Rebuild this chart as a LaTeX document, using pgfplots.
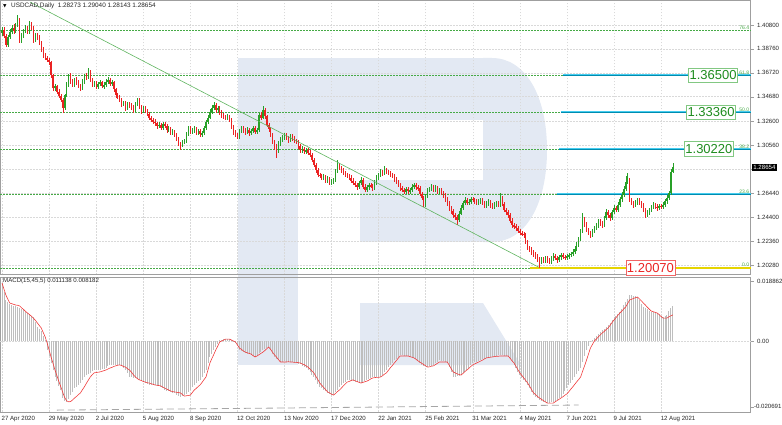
\documentclass[border=0pt]{standalone}
\usepackage{pgfplots}
\pgfplotsset{compat=1.18}
\usepackage{pgfplotstable}
\usepackage{fontspec}
\setmainfont{Liberation Sans}
\newfontfamily\symfont{DejaVu Sans}

\definecolor{bull}{RGB}{40,160,40}
\definecolor{bear}{RGB}{235,35,35}
\definecolor{fibgreen}{RGB}{70,170,70}
\definecolor{boxgreen}{RGB}{30,140,30}
\definecolor{boxedge}{RGB}{130,200,130}
\definecolor{trendgreen}{RGB}{95,180,95}
\definecolor{lvlcyan}{RGB}{70,205,240}
\definecolor{lvlcore}{RGB}{0,140,175}
\definecolor{lvlyellow}{RGB}{230,212,0}
\definecolor{histgray}{RGB}{190,190,190}
\definecolor{sigred}{RGB}{240,60,60}
\definecolor{wmark}{RGB}{227,233,243}

% daily USDCAD candles (i o h l c) and MACD(15,45,5) main / signal
\pgfplotstableread{
i o h l c m s
0 1.4010 1.4065 1.3990 1.4037 0.0182 0.0182
1 1.4037 1.4060 1.3965 1.3985 0.0155 0.0163
2 1.3985 1.4000 1.3890 1.3910 0.0129 0.0144
3 1.3910 1.3995 1.3895 1.3975 0.0122 0.0131
4 1.3975 1.4045 1.3960 1.4020 0.0116 0.0119
5 1.4020 1.4080 1.4000 1.4055 0.0114 0.0117
6 1.4055 1.4085 1.4005 1.4030 0.0111 0.0115
7 1.4030 1.4100 1.4010 1.4075 0.0109 0.0113
8 1.4075 1.4165 1.4060 1.4123 0.0107 0.0112
9 1.4123 1.4140 1.3930 1.3950 0.0104 0.0110
10 1.3950 1.4015 1.3925 1.3990 0.0100 0.0104
11 1.3990 1.4050 1.3970 1.4030 0.0096 0.0099
12 1.4030 1.4080 1.4010 1.4055 0.0092 0.0093
13 1.4055 1.4075 1.4000 1.4020 0.0088 0.0088
14 1.4020 1.4110 1.4005 1.4090 0.0084 0.0083
15 1.4090 1.4105 1.4040 1.4060 0.0080 0.0078
16 1.4060 1.4075 1.3930 1.3950 0.0075 0.0072
17 1.3950 1.4015 1.3935 1.3995 0.0060 0.0065
18 1.3995 1.4010 1.3955 1.3980 0.0044 0.0057
19 1.3980 1.3995 1.3905 1.3925 0.0038 0.0049
20 1.3925 1.3940 1.3850 1.3870 0.0031 0.0041
21 1.3870 1.3890 1.3800 1.3820 0.0017 0.0027
22 1.3820 1.3840 1.3780 1.3800 0.0003 0.0013
23 1.3800 1.3815 1.3760 1.3780 -0.0028 -0.0006
24 1.3780 1.3800 1.3735 1.3760 -0.0048 -0.0028
25 1.3760 1.3775 1.3630 1.3650 -0.0069 -0.0050
26 1.3650 1.3665 1.3520 1.3540 -0.0091 -0.0070
27 1.3540 1.3580 1.3515 1.3555 -0.0113 -0.0091
28 1.3555 1.3570 1.3490 1.3510 -0.0127 -0.0109
29 1.3510 1.3530 1.3455 1.3475 -0.0141 -0.0127
30 1.3475 1.3490 1.3420 1.3440 -0.0154 -0.0144
31 1.3440 1.3455 1.3330 1.3370 -0.0179 -0.0162
32 1.3370 1.3495 1.3355 1.3480 -0.0188 -0.0178
33 1.3480 1.3590 1.3465 1.3570 -0.0192 -0.0188
34 1.3570 1.3665 1.3550 1.3645 -0.0182 -0.0191
35 1.3645 1.3670 1.3580 1.3600 -0.0170 -0.0190
36 1.3600 1.3620 1.3550 1.3570 -0.0159 -0.0185
37 1.3570 1.3630 1.3550 1.3610 -0.0148 -0.0179
38 1.3610 1.3635 1.3570 1.3590 -0.0143 -0.0174
39 1.3590 1.3610 1.3540 1.3560 -0.0137 -0.0168
40 1.3560 1.3580 1.3515 1.3540 -0.0132 -0.0163
41 1.3540 1.3620 1.3525 1.3600 -0.0122 -0.0153
42 1.3600 1.3665 1.3580 1.3645 -0.0113 -0.0144
43 1.3645 1.3670 1.3610 1.3630 -0.0108 -0.0133
44 1.3630 1.3710 1.3615 1.3680 -0.0104 -0.0123
45 1.3680 1.3695 1.3595 1.3610 -0.0100 -0.0113
46 1.3610 1.3630 1.3550 1.3570 -0.0095 -0.0106
47 1.3570 1.3605 1.3550 1.3585 -0.0091 -0.0100
48 1.3585 1.3600 1.3530 1.3550 -0.0091 -0.0099
49 1.3550 1.3595 1.3535 1.3575 -0.0091 -0.0098
50 1.3575 1.3610 1.3555 1.3590 -0.0091 -0.0097
51 1.3590 1.3605 1.3540 1.3555 -0.0089 -0.0095
52 1.3555 1.3590 1.3535 1.3570 -0.0087 -0.0093
53 1.3570 1.3615 1.3550 1.3595 -0.0085 -0.0091
54 1.3595 1.3635 1.3575 1.3610 -0.0080 -0.0088
55 1.3610 1.3625 1.3560 1.3580 -0.0075 -0.0085
56 1.3580 1.3610 1.3560 1.3590 -0.0075 -0.0083
57 1.3590 1.3605 1.3510 1.3530 -0.0075 -0.0080
58 1.3530 1.3545 1.3460 1.3480 -0.0075 -0.0078
59 1.3480 1.3500 1.3445 1.3465 -0.0075 -0.0076
60 1.3465 1.3485 1.3420 1.3440 -0.0075 -0.0075
61 1.3440 1.3460 1.3380 1.3400 -0.0080 -0.0077
62 1.3400 1.3435 1.3385 1.3415 -0.0086 -0.0080
63 1.3415 1.3430 1.3345 1.3370 -0.0091 -0.0082
64 1.3370 1.3425 1.3355 1.3405 -0.0102 -0.0087
65 1.3405 1.3420 1.3370 1.3390 -0.0113 -0.0091
66 1.3390 1.3410 1.3355 1.3375 -0.0114 -0.0098
67 1.3375 1.3395 1.3330 1.3350 -0.0115 -0.0106
68 1.3350 1.3420 1.3335 1.3400 -0.0116 -0.0113
69 1.3400 1.3460 1.3385 1.3440 -0.0119 -0.0118
70 1.3440 1.3455 1.3360 1.3380 -0.0122 -0.0122
71 1.3380 1.3395 1.3320 1.3340 -0.0125 -0.0124
72 1.3340 1.3390 1.3325 1.3370 -0.0129 -0.0127
73 1.3370 1.3385 1.3330 1.3350 -0.0132 -0.0129
74 1.3350 1.3365 1.3300 1.3320 -0.0135 -0.0131
75 1.3320 1.3335 1.3270 1.3290 -0.0138 -0.0132
76 1.3290 1.3305 1.3250 1.3270 -0.0138 -0.0134
77 1.3270 1.3290 1.3235 1.3255 -0.0138 -0.0136
78 1.3255 1.3275 1.3220 1.3240 -0.0138 -0.0138
79 1.3240 1.3255 1.3195 1.3215 -0.0140 -0.0139
80 1.3215 1.3250 1.3200 1.3230 -0.0142 -0.0140
81 1.3230 1.3245 1.3180 1.3200 -0.0144 -0.0141
82 1.3200 1.3255 1.3185 1.3235 -0.0149 -0.0145
83 1.3235 1.3255 1.3200 1.3220 -0.0154 -0.0148
84 1.3220 1.3235 1.3160 1.3180 -0.0156 -0.0151
85 1.3180 1.3215 1.3165 1.3195 -0.0158 -0.0154
86 1.3195 1.3210 1.3140 1.3160 -0.0160 -0.0157
87 1.3160 1.3190 1.3140 1.3170 -0.0162 -0.0159
88 1.3170 1.3185 1.3120 1.3140 -0.0163 -0.0160
89 1.3140 1.3155 1.3090 1.3110 -0.0168 -0.0161
90 1.3110 1.3125 1.3050 1.3070 -0.0172 -0.0162
91 1.3070 1.3085 1.3010 1.3050 -0.0176 -0.0163
92 1.3050 1.3095 1.3035 1.3075 -0.0173 -0.0168
93 1.3075 1.3110 1.3060 1.3090 -0.0170 -0.0173
94 1.3090 1.3170 1.3075 1.3150 -0.0165 -0.0172
95 1.3150 1.3220 1.3135 1.3200 -0.0159 -0.0171
96 1.3200 1.3215 1.3145 1.3165 -0.0154 -0.0170
97 1.3165 1.3200 1.3150 1.3180 -0.0146 -0.0162
98 1.3180 1.3215 1.3160 1.3195 -0.0138 -0.0154
99 1.3195 1.3210 1.3140 1.3160 -0.0133 -0.0149
100 1.3160 1.3195 1.3140 1.3175 -0.0127 -0.0143
101 1.3175 1.3190 1.3125 1.3145 -0.0122 -0.0138
102 1.3145 1.3175 1.3125 1.3155 -0.0112 -0.0130
103 1.3155 1.3220 1.3140 1.3200 -0.0101 -0.0121
104 1.3200 1.3270 1.3185 1.3250 -0.0091 -0.0113
105 1.3250 1.3310 1.3235 1.3290 -0.0070 -0.0091
106 1.3290 1.3360 1.3275 1.3337 -0.0050 -0.0069
107 1.3337 1.3395 1.3320 1.3370 -0.0040 -0.0055
108 1.3370 1.3420 1.3350 1.3397 -0.0029 -0.0042
109 1.3397 1.3415 1.3330 1.3350 -0.0019 -0.0028
110 1.3350 1.3390 1.3330 1.3370 -0.0008 -0.0016
111 1.3370 1.3385 1.3310 1.3330 0.0003 -0.0003
112 1.3330 1.3350 1.3290 1.3310 0.0004 0.0000
113 1.3310 1.3330 1.3275 1.3295 0.0005 0.0003
114 1.3295 1.3315 1.3265 1.3285 0.0006 0.0006
115 1.3285 1.3320 1.3265 1.3300 0.0006 0.0006
116 1.3300 1.3315 1.3250 1.3270 0.0006 0.0006
117 1.3270 1.3285 1.3190 1.3210 0.0002 0.0003
118 1.3210 1.3225 1.3140 1.3160 -0.0002 0.0000
119 1.3160 1.3180 1.3120 1.3140 -0.0006 -0.0003
120 1.3140 1.3160 1.3105 1.3125 -0.0017 -0.0012
121 1.3125 1.3190 1.3110 1.3170 -0.0028 -0.0022
122 1.3170 1.3215 1.3155 1.3195 -0.0031 -0.0026
123 1.3195 1.3215 1.3160 1.3180 -0.0035 -0.0031
124 1.3180 1.3200 1.3140 1.3160 -0.0038 -0.0035
125 1.3160 1.3205 1.3145 1.3185 -0.0040 -0.0037
126 1.3185 1.3200 1.3135 1.3155 -0.0042 -0.0039
127 1.3155 1.3195 1.3140 1.3175 -0.0044 -0.0041
128 1.3175 1.3220 1.3160 1.3200 -0.0047 -0.0046
129 1.3200 1.3215 1.3145 1.3165 -0.0050 -0.0050
130 1.3165 1.3200 1.3150 1.3180 -0.0044 -0.0047
131 1.3180 1.3330 1.3165 1.3310 -0.0039 -0.0043
132 1.3310 1.3335 1.3270 1.3290 -0.0033 -0.0039
133 1.3290 1.3390 1.3275 1.3355 -0.0028 -0.0035
134 1.3355 1.3370 1.3280 1.3300 -0.0025 -0.0030
135 1.3300 1.3315 1.3205 1.3225 -0.0022 -0.0024
136 1.3225 1.3240 1.3170 1.3190 -0.0019 -0.0019
137 1.3190 1.3205 1.3120 1.3140 -0.0029 -0.0027
138 1.3140 1.3155 1.3065 1.3085 -0.0040 -0.0036
139 1.3085 1.3100 1.3015 1.3040 -0.0050 -0.0044
140 1.3040 1.3060 1.2945 1.3010 -0.0055 -0.0051
141 1.3010 1.3090 1.2990 1.3070 -0.0061 -0.0059
142 1.3070 1.3120 1.3050 1.3098 -0.0066 -0.0066
143 1.3098 1.3140 1.3080 1.3120 -0.0065 -0.0066
144 1.3120 1.3160 1.3100 1.3140 -0.0064 -0.0066
145 1.3140 1.3160 1.3095 1.3115 -0.0065 -0.0066
146 1.3115 1.3135 1.3075 1.3098 -0.0066 -0.0065
147 1.3098 1.3145 1.3080 1.3125 -0.0066 -0.0066
148 1.3125 1.3145 1.3090 1.3110 -0.0066 -0.0066
149 1.3110 1.3130 1.3070 1.3090 -0.0068 -0.0067
150 1.3090 1.3110 1.3060 1.3080 -0.0069 -0.0067
151 1.3080 1.3100 1.3025 1.3045 -0.0071 -0.0068
152 1.3045 1.3060 1.2990 1.3010 -0.0072 -0.0069
153 1.3010 1.3045 1.2990 1.3025 -0.0077 -0.0072
154 1.3025 1.3040 1.2980 1.3000 -0.0082 -0.0074
155 1.3000 1.3030 1.2980 1.3010 -0.0086 -0.0078
156 1.3010 1.3030 1.2970 1.2990 -0.0091 -0.0082
157 1.2990 1.3010 1.2950 1.2970 -0.0098 -0.0088
158 1.2970 1.2985 1.2910 1.2930 -0.0106 -0.0094
159 1.2930 1.2945 1.2865 1.2885 -0.0113 -0.0100
160 1.2885 1.2900 1.2820 1.2840 -0.0123 -0.0111
161 1.2840 1.2855 1.2780 1.2800 -0.0134 -0.0121
162 1.2800 1.2820 1.2770 1.2790 -0.0144 -0.0132
163 1.2790 1.2810 1.2755 1.2775 -0.0149 -0.0139
164 1.2775 1.2805 1.2755 1.2785 -0.0154 -0.0146
165 1.2785 1.2800 1.2735 1.2756 -0.0158 -0.0153
166 1.2756 1.2790 1.2735 1.2770 -0.0163 -0.0160
167 1.2770 1.2785 1.2710 1.2730 -0.0165 -0.0163
168 1.2730 1.2765 1.2710 1.2745 -0.0168 -0.0167
169 1.2745 1.2775 1.2725 1.2756 -0.0170 -0.0170
170 1.2756 1.2850 1.2740 1.2830 -0.0161 -0.0165
171 1.2830 1.2925 1.2815 1.2884 -0.0153 -0.0159
172 1.2884 1.2900 1.2840 1.2860 -0.0144 -0.0154
173 1.2860 1.2880 1.2820 1.2842 -0.0139 -0.0148
174 1.2842 1.2860 1.2795 1.2815 -0.0133 -0.0141
175 1.2815 1.2835 1.2780 1.2800 -0.0128 -0.0135
176 1.2800 1.2820 1.2770 1.2790 -0.0122 -0.0129
177 1.2790 1.2810 1.2755 1.2775 -0.0123 -0.0127
178 1.2775 1.2795 1.2730 1.2750 -0.0125 -0.0124
179 1.2750 1.2770 1.2710 1.2730 -0.0126 -0.0122
180 1.2730 1.2750 1.2695 1.2715 -0.0128 -0.0125
181 1.2715 1.2735 1.2675 1.2696 -0.0129 -0.0127
182 1.2696 1.2750 1.2680 1.2730 -0.0131 -0.0130
183 1.2730 1.2780 1.2710 1.2756 -0.0132 -0.0132
184 1.2756 1.2775 1.2680 1.2700 -0.0129 -0.0130
185 1.2700 1.2720 1.2650 1.2670 -0.0125 -0.0128
186 1.2670 1.2715 1.2650 1.2695 -0.0122 -0.0126
187 1.2695 1.2735 1.2675 1.2713 -0.0119 -0.0123
188 1.2713 1.2735 1.2685 1.2705 -0.0116 -0.0119
189 1.2705 1.2725 1.2665 1.2688 -0.0113 -0.0116
190 1.2688 1.2755 1.2670 1.2735 -0.0113 -0.0115
191 1.2735 1.2795 1.2715 1.2773 -0.0113 -0.0114
192 1.2773 1.2820 1.2755 1.2800 -0.0113 -0.0114
193 1.2800 1.2850 1.2780 1.2825 -0.0113 -0.0113
194 1.2825 1.2845 1.2790 1.2810 -0.0106 -0.0109
195 1.2810 1.2880 1.2795 1.2842 -0.0098 -0.0104
196 1.2842 1.2860 1.2805 1.2825 -0.0091 -0.0100
197 1.2825 1.2845 1.2795 1.2816 -0.0083 -0.0092
198 1.2816 1.2835 1.2780 1.2800 -0.0076 -0.0084
199 1.2800 1.2820 1.2770 1.2790 -0.0068 -0.0077
200 1.2790 1.2810 1.2740 1.2760 -0.0060 -0.0069
201 1.2760 1.2780 1.2720 1.2740 -0.0055 -0.0062
202 1.2740 1.2760 1.2695 1.2715 -0.0049 -0.0054
203 1.2715 1.2735 1.2665 1.2688 -0.0044 -0.0047
204 1.2688 1.2705 1.2650 1.2670 -0.0045 -0.0047
205 1.2670 1.2690 1.2635 1.2654 -0.0046 -0.0047
206 1.2654 1.2700 1.2635 1.2680 -0.0046 -0.0047
207 1.2680 1.2700 1.2640 1.2660 -0.0047 -0.0047
208 1.2660 1.2690 1.2640 1.2670 -0.0049 -0.0049
209 1.2670 1.2720 1.2650 1.2700 -0.0051 -0.0051
210 1.2700 1.2735 1.2680 1.2713 -0.0053 -0.0053
211 1.2713 1.2735 1.2675 1.2695 -0.0058 -0.0057
212 1.2695 1.2715 1.2665 1.2688 -0.0064 -0.0062
213 1.2688 1.2705 1.2620 1.2640 -0.0069 -0.0066
214 1.2640 1.2655 1.2585 1.2603 -0.0074 -0.0070
215 1.2603 1.2620 1.2525 1.2543 -0.0078 -0.0074
216 1.2543 1.2640 1.2530 1.2620 -0.0080 -0.0078
217 1.2620 1.2690 1.2600 1.2670 -0.0082 -0.0082
218 1.2670 1.2700 1.2650 1.2680 -0.0080 -0.0081
219 1.2680 1.2720 1.2660 1.2696 -0.0077 -0.0079
220 1.2696 1.2715 1.2650 1.2670 -0.0075 -0.0078
221 1.2670 1.2710 1.2650 1.2688 -0.0070 -0.0074
222 1.2688 1.2705 1.2640 1.2660 -0.0065 -0.0070
223 1.2660 1.2690 1.2640 1.2670 -0.0060 -0.0066
224 1.2670 1.2690 1.2625 1.2645 -0.0062 -0.0066
225 1.2645 1.2665 1.2605 1.2628 -0.0063 -0.0066
226 1.2628 1.2645 1.2570 1.2590 -0.0065 -0.0066
227 1.2590 1.2610 1.2535 1.2555 -0.0066 -0.0066
228 1.2555 1.2575 1.2495 1.2517 -0.0082 -0.0076
229 1.2517 1.2535 1.2470 1.2490 -0.0097 -0.0087
230 1.2490 1.2510 1.2435 1.2457 -0.0113 -0.0097
231 1.2457 1.2475 1.2415 1.2440 -0.0112 -0.0100
232 1.2440 1.2460 1.2372 1.2415 -0.0110 -0.0103
233 1.2415 1.2490 1.2400 1.2470 -0.0109 -0.0105
234 1.2470 1.2540 1.2455 1.2517 -0.0107 -0.0107
235 1.2517 1.2580 1.2500 1.2560 -0.0102 -0.0102
236 1.2560 1.2610 1.2540 1.2586 -0.0096 -0.0096
237 1.2586 1.2605 1.2540 1.2560 -0.0091 -0.0091
238 1.2560 1.2590 1.2540 1.2569 -0.0084 -0.0086
239 1.2569 1.2615 1.2550 1.2595 -0.0076 -0.0080
240 1.2595 1.2615 1.2565 1.2586 -0.0069 -0.0075
241 1.2586 1.2605 1.2550 1.2570 -0.0067 -0.0072
242 1.2570 1.2590 1.2540 1.2560 -0.0065 -0.0069
243 1.2560 1.2595 1.2540 1.2575 -0.0062 -0.0066
244 1.2575 1.2605 1.2555 1.2586 -0.0060 -0.0063
245 1.2586 1.2605 1.2540 1.2560 -0.0058 -0.0060
246 1.2560 1.2580 1.2520 1.2543 -0.0055 -0.0056
247 1.2543 1.2575 1.2520 1.2555 -0.0053 -0.0053
248 1.2555 1.2590 1.2535 1.2569 -0.0052 -0.0052
249 1.2569 1.2585 1.2520 1.2540 -0.0051 -0.0051
250 1.2540 1.2560 1.2505 1.2526 -0.0050 -0.0050
251 1.2526 1.2565 1.2505 1.2545 -0.0048 -0.0049
252 1.2545 1.2580 1.2525 1.2560 -0.0047 -0.0048
253 1.2560 1.2580 1.2525 1.2545 -0.0045 -0.0048
254 1.2545 1.2645 1.2530 1.2603 -0.0044 -0.0047
255 1.2603 1.2620 1.2535 1.2555 -0.0045 -0.0047
256 1.2555 1.2570 1.2480 1.2500 -0.0047 -0.0047
257 1.2500 1.2520 1.2460 1.2480 -0.0048 -0.0047
258 1.2480 1.2500 1.2435 1.2457 -0.0050 -0.0047
259 1.2457 1.2475 1.2390 1.2410 -0.0058 -0.0054
260 1.2410 1.2430 1.2350 1.2372 -0.0067 -0.0062
261 1.2372 1.2390 1.2340 1.2360 -0.0075 -0.0069
262 1.2360 1.2380 1.2325 1.2346 -0.0086 -0.0079
263 1.2346 1.2365 1.2300 1.2320 -0.0096 -0.0090
264 1.2320 1.2340 1.2285 1.2304 -0.0107 -0.0100
265 1.2304 1.2325 1.2275 1.2295 -0.0115 -0.0108
266 1.2295 1.2315 1.2265 1.2287 -0.0123 -0.0116
267 1.2287 1.2305 1.2210 1.2230 -0.0130 -0.0124
268 1.2230 1.2245 1.2155 1.2176 -0.0138 -0.0132
269 1.2176 1.2195 1.2140 1.2160 -0.0149 -0.0142
270 1.2160 1.2180 1.2120 1.2142 -0.0159 -0.0153
271 1.2142 1.2160 1.2100 1.2120 -0.0170 -0.0163
272 1.2120 1.2140 1.2085 1.2107 -0.0175 -0.0168
273 1.2107 1.2125 1.2055 1.2075 -0.0180 -0.0174
274 1.2075 1.2095 1.2005 1.2056 -0.0185 -0.0179
275 1.2056 1.2100 1.2040 1.2080 -0.0188 -0.0183
276 1.2080 1.2100 1.2045 1.2065 -0.0190 -0.0187
277 1.2065 1.2110 1.2045 1.2090 -0.0193 -0.0191
278 1.2090 1.2110 1.2050 1.2070 -0.0195 -0.0195
279 1.2070 1.2090 1.2035 1.2056 -0.0194 -0.0195
280 1.2056 1.2105 1.2035 1.2085 -0.0193 -0.0195
281 1.2085 1.2130 1.2065 1.2107 -0.0192 -0.0195
282 1.2107 1.2125 1.2070 1.2090 -0.0188 -0.0191
283 1.2090 1.2110 1.2050 1.2073 -0.0184 -0.0187
284 1.2073 1.2115 1.2055 1.2095 -0.0180 -0.0183
285 1.2095 1.2135 1.2075 1.2116 -0.0176 -0.0179
286 1.2116 1.2135 1.2080 1.2100 -0.0167 -0.0175
287 1.2100 1.2120 1.2070 1.2090 -0.0157 -0.0170
288 1.2090 1.2125 1.2070 1.2105 -0.0148 -0.0166
289 1.2105 1.2135 1.2085 1.2116 -0.0139 -0.0159
290 1.2116 1.2145 1.2095 1.2125 -0.0131 -0.0151
291 1.2125 1.2165 1.2105 1.2142 -0.0122 -0.0144
292 1.2142 1.2190 1.2125 1.2170 -0.0113 -0.0136
293 1.2170 1.2225 1.2150 1.2201 -0.0103 -0.0128
294 1.2201 1.2270 1.2185 1.2250 -0.0094 -0.0121
295 1.2250 1.2335 1.2235 1.2312 -0.0085 -0.0113
296 1.2312 1.2474 1.2300 1.2420 -0.0066 -0.0095
297 1.2420 1.2440 1.2355 1.2375 -0.0047 -0.0078
298 1.2375 1.2395 1.2310 1.2330 -0.0028 -0.0060
299 1.2330 1.2350 1.2285 1.2305 -0.0016 -0.0041
300 1.2305 1.2325 1.2265 1.2287 -0.0003 -0.0022
301 1.2287 1.2340 1.2270 1.2320 0.0003 -0.0011
302 1.2320 1.2365 1.2300 1.2346 0.0009 0.0000
303 1.2346 1.2390 1.2330 1.2370 0.0015 0.0006
304 1.2370 1.2420 1.2350 1.2398 0.0022 0.0013
305 1.2398 1.2420 1.2365 1.2385 0.0028 0.0019
306 1.2385 1.2405 1.2350 1.2372 0.0034 0.0025
307 1.2372 1.2450 1.2355 1.2430 0.0039 0.0030
308 1.2430 1.2505 1.2415 1.2483 0.0045 0.0036
309 1.2483 1.2500 1.2435 1.2455 0.0050 0.0041
310 1.2455 1.2475 1.2410 1.2432 0.0058 0.0049
311 1.2432 1.2500 1.2415 1.2480 0.0067 0.0058
312 1.2480 1.2540 1.2465 1.2517 0.0075 0.0066
313 1.2517 1.2535 1.2480 1.2500 0.0080 0.0073
314 1.2500 1.2565 1.2485 1.2543 0.0086 0.0081
315 1.2543 1.2610 1.2525 1.2590 0.0091 0.0088
316 1.2590 1.2650 1.2570 1.2628 0.0101 0.0094
317 1.2628 1.2705 1.2610 1.2680 0.0112 0.0101
318 1.2680 1.2790 1.2665 1.2740 0.0122 0.0107
319 1.2740 1.2816 1.2720 1.2756 0.0133 0.0118
320 1.2756 1.2775 1.2570 1.2586 0.0144 0.0129
321 1.2586 1.2605 1.2540 1.2560 0.0143 0.0131
322 1.2560 1.2580 1.2520 1.2543 0.0141 0.0134
323 1.2543 1.2585 1.2525 1.2565 0.0140 0.0136
324 1.2565 1.2605 1.2545 1.2586 0.0138 0.0138
325 1.2586 1.2605 1.2540 1.2560 0.0128 0.0132
326 1.2560 1.2580 1.2520 1.2543 0.0117 0.0126
327 1.2543 1.2560 1.2480 1.2500 0.0107 0.0119
328 1.2500 1.2520 1.2435 1.2457 0.0103 0.0113
329 1.2457 1.2500 1.2440 1.2480 0.0099 0.0106
330 1.2480 1.2520 1.2460 1.2500 0.0095 0.0100
331 1.2500 1.2545 1.2480 1.2525 0.0091 0.0094
332 1.2525 1.2565 1.2505 1.2543 0.0090 0.0092
333 1.2543 1.2560 1.2510 1.2530 0.0089 0.0090
334 1.2530 1.2550 1.2495 1.2517 0.0088 0.0088
335 1.2517 1.2555 1.2500 1.2535 0.0084 0.0083
336 1.2535 1.2555 1.2505 1.2526 0.0079 0.0077
337 1.2526 1.2565 1.2505 1.2545 0.0075 0.0072
338 1.2545 1.2595 1.2525 1.2575 0.0078 0.0072
339 1.2575 1.2625 1.2555 1.2603 0.0082 0.0072
340 1.2603 1.2665 1.2585 1.2645 0.0093 0.0076
341 1.2645 1.2850 1.2630 1.2827 0.0104 0.0079
342 1.2827 1.2904 1.2814 1.2865 0.0111 0.0082
}\ohlc

\tikzset{
  pricebox/.style={draw=#1, fill=white, font=\fontsize{13}{14}\selectfont,
    inner xsep=1pt, inner ysep=2.6pt, line width=0.6pt},
}

\begin{document}
\begin{tikzpicture}[x=1pt,y=1pt]

% watermark logo behind everything
\fill[wmark] (237.7,366) rectangle (298.3,59);
\fill[wmark] (298,366) rectangle (492,304);
\fill[wmark] (483,366) -- (492,366) .. controls (525,366) and (547,329) .. (547,274)
  .. controls (547,219) and (525,182) .. (492,182) -- (483,182) -- cycle;
\fill[wmark] (360,244) rectangle (492,182);
\fill[wmark] (360,121) -- (483,121) -- (521,59) -- (360,59) -- cycle;

\pgfplotsset{
  chart/.style={
    scale only axis, width=750.5pt,
    xmin=-1.02, xmax=381.6,
    axis line style={gray!75}, tick style={gray!75},
    xtick={0,24,...,336}, xmajorgrids,
    grid style={gray!30, dash pattern=on 1.5pt off 1.5pt, line width=0.4pt},
    ytick pos=right, yticklabel pos=right, tick align=outside,
    major tick length=3pt, xtick style={draw=none},
    scaled ticks=false, clip=false,
    ticklabel style={font=\fontsize{6.1}{7}\selectfont, text=black!85},
  },
  candle/.style={draw=none, mark=none, forget plot,
    error bars/.cd, y dir=both, y explicit, error mark=none,
    error bar style={draw=#1}},
}

% price panel
\begin{axis}[chart, at={(0pt,149.5pt)}, anchor=south west, height=274.5pt,
  ymin=1.19494, ymax=1.42935, ymajorgrids,
  xticklabels={},
  ytick={1.2028,1.2236,1.2440,1.2644,1.2852,1.3056,1.3260,1.3468,1.3672,1.3876,1.4080},
  yticklabels={1.20280,1.22360,1.24400,1.26440,,1.30560,1.32600,1.34680,1.36720,1.38760,1.40800},
]
% fibonacci levels
\addplot[fibgreen, line width=0.5pt, dash pattern=on 1.5pt off 1.5pt] coordinates {(-1.02,1.4037) (381.6,1.4037)};
\addplot[fibgreen, line width=0.5pt, dash pattern=on 1.5pt off 1.5pt] coordinates {(-1.02,1.3650) (381.6,1.3650)};
\addplot[fibgreen, line width=0.5pt, dash pattern=on 1.5pt off 1.5pt] coordinates {(-1.02,1.3336) (381.6,1.3336)};
\addplot[fibgreen, line width=0.5pt, dash pattern=on 1.5pt off 1.5pt] coordinates {(-1.02,1.3022) (381.6,1.3022)};
\addplot[fibgreen, line width=0.5pt, dash pattern=on 1.5pt off 1.5pt] coordinates {(-1.02,1.2636) (381.6,1.2636)};
\addplot[fibgreen, line width=0.5pt, dash pattern=on 1.5pt off 1.5pt] coordinates {(-1.02,1.2007) (381.6,1.2007)};
% target levels: light cyan band with a darker core
\addplot[lvlcyan, line width=1.8pt] coordinates {(286.2,1.3650) (381.6,1.3650)};
\addplot[lvlcyan, line width=1.8pt] coordinates {(285.2,1.3336) (381.6,1.3336)};
\addplot[lvlcyan, line width=1.8pt] coordinates {(284.2,1.3022) (381.6,1.3022)};
\addplot[lvlcyan, line width=1.8pt] coordinates {(283.2,1.2636) (381.6,1.2636)};
\addplot[lvlcore, line width=0.5pt] coordinates {(286.2,1.3650) (381.6,1.3650)};
\addplot[lvlcore, line width=0.5pt] coordinates {(285.2,1.3336) (381.6,1.3336)};
\addplot[lvlcore, line width=0.5pt] coordinates {(284.2,1.3022) (381.6,1.3022)};
\addplot[lvlcore, line width=0.5pt] coordinates {(283.2,1.2636) (381.6,1.2636)};
\addplot[lvlyellow, line width=1.6pt] coordinates {(269.4,1.2007) (381.6,1.2007)};

% wicks
\addplot[candle={bull, line width=0.5pt}]
  table[x=i, y expr={\thisrow{c}>=\thisrow{o} ? 0.5*(\thisrow{h}+\thisrow{l}) : nan},
        y error expr={0.5*(\thisrow{h}-\thisrow{l})}] {\ohlc};
\addplot[candle={bear, line width=0.5pt}]
  table[x=i, y expr={\thisrow{c}<\thisrow{o} ? 0.5*(\thisrow{h}+\thisrow{l}) : nan},
        y error expr={0.5*(\thisrow{h}-\thisrow{l})}] {\ohlc};
% bodies
\addplot[candle={bull, line width=1.3pt}]
  table[x=i, y expr={\thisrow{c}>=\thisrow{o} ? 0.5*(\thisrow{o}+\thisrow{c}) : nan},
        y error expr={0.5*abs(\thisrow{c}-\thisrow{o})}] {\ohlc};
\addplot[candle={bear, line width=1.3pt}]
  table[x=i, y expr={\thisrow{c}<\thisrow{o} ? 0.5*(\thisrow{o}+\thisrow{c}) : nan},
        y error expr={0.5*abs(\thisrow{c}-\thisrow{o})}] {\ohlc};

% trend line
\addplot[trendgreen, line width=0.6pt] coordinates {(14.3,1.4276) (273.5,1.2013)};

% level labels
\foreach \lv/\txt in {1.4037/76.4, 1.3650/61.8, 1.3336/50.0, 1.3022/38.2, 1.2636/23.6, 1.2007/0.0}{
  \edef\tmp{\noexpand\node[anchor=south east, text=fibgreen, font=\noexpand\fontsize{5}{5}\noexpand\selectfont, inner sep=0.6pt] at (axis cs:381.3,\lv) {\txt};}\tmp
}
\node[pricebox=boxedge, text=boxgreen] at (axis cs:362.5,1.3650) {1.36500};
\node[pricebox=boxedge, text=boxgreen] at (axis cs:361.5,1.3336) {1.33360};
\node[pricebox=boxedge, text=boxgreen] at (axis cs:360.4,1.3022) {1.30220};
\node[pricebox=bear!70, text=bear] at (axis cs:330.6,1.2007) {1.20070};
\node[anchor=west, fill=black, text=white, font=\fontsize{6.1}{7}\selectfont, inner sep=1.2pt, xshift=1.5pt] at (axis cs:381.6,1.28654) {1.28654};
\end{axis}

% MACD panel
\begin{axis}[chart, at={(0pt,12.3pt)}, anchor=south west, height=135pt,
  ymin=-0.0222, ymax=0.02019,
  xticklabels={27 Apr 2020, 29 May 2020, 2 Jul 2020, 5 Aug 2020, 8 Sep 2020, 12 Oct 2020,
    13 Nov 2020, 17 Dec 2020, 22 Jan 2021, 25 Feb 2021, 31 Mar 2021, 4 May 2021,
    7 Jun 2021, 9 Jul 2021, 12 Aug 2021},
  xticklabel style={anchor=north west, inner sep=1pt, xshift=-1.5pt},
  ytick={-0.020691,0.018862}, yticklabels={\hspace*{-3pt}-0.020691,0.018862},
  extra y ticks={0}, extra y tick labels={0.00}, extra y tick style={grid=major},
]
\addplot[ycomb, draw=histgray, line width=0.9pt] table[x=i, y=m] {\ohlc};
\addplot[sigred, line width=0.6pt] table[x=i, y=s] {\ohlc};
\addplot[gray!70, line width=0.8pt, dash pattern=on 7pt off 4pt] coordinates {(28,-0.0217) (150,-0.0210) (294,-0.0201)};
\end{axis}

% panel captions
\node[anchor=west, font=\symfont\fontsize{4.5}{5}\selectfont, inner sep=0pt] at (3,418) {▼};
\node[anchor=west, font=\fontsize{6.4}{7}\selectfont, text=black!85, inner sep=0pt] at (11,418) {USDCAD,Daily\ \ 1.28273 1.29040 1.28143 1.28654};
\node[anchor=west, font=\fontsize{6.1}{7}\selectfont, text=black!85, inner sep=0pt] at (3,143) {MACD(15,45,5) 0.011138 0.008182};

\pgfresetboundingbox
\useasboundingbox (0,0) rectangle (782,424);
\end{tikzpicture}
\end{document}
